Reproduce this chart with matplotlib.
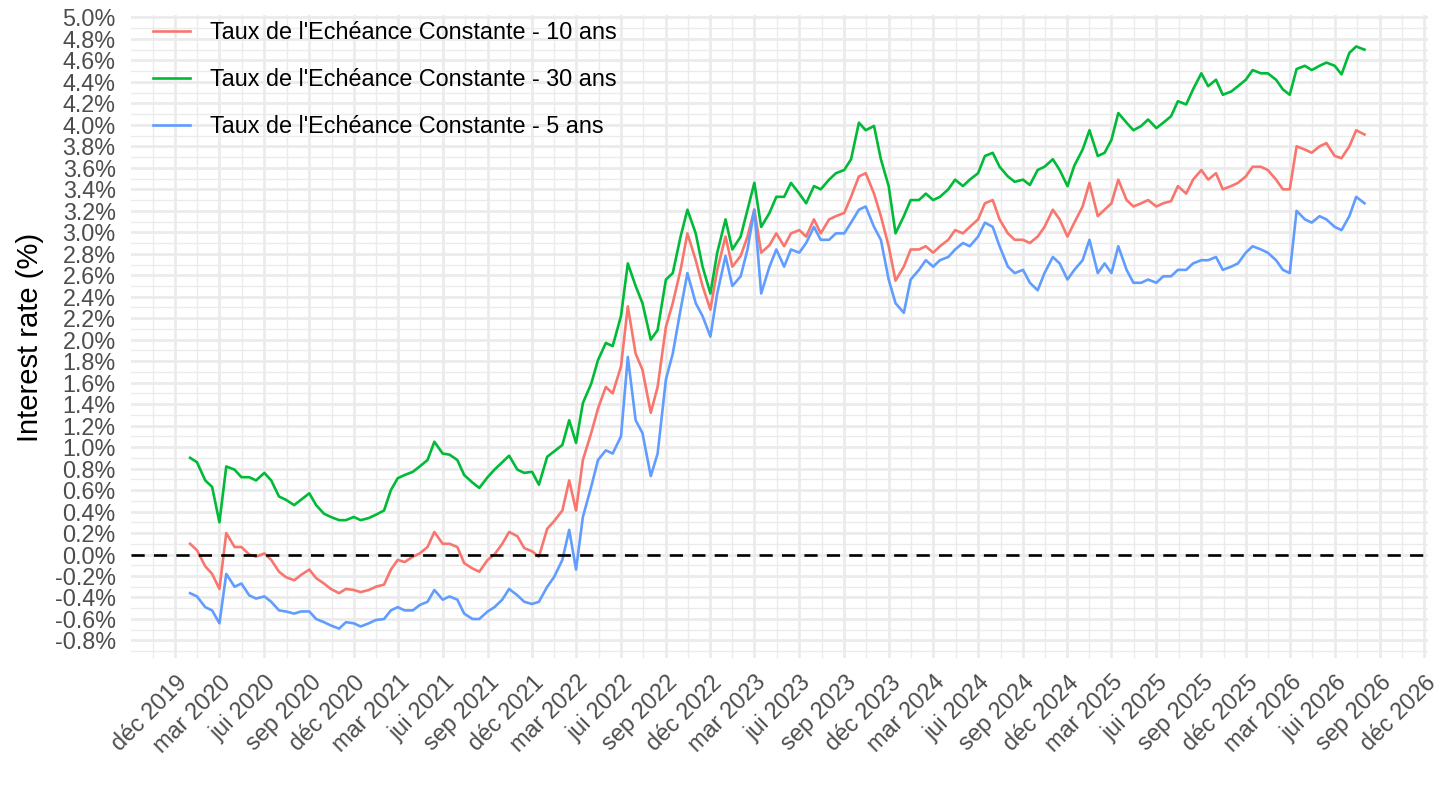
import numpy as np
import pandas as pd
import matplotlib
matplotlib.use("Agg")
import matplotlib.pyplot as plt
from matplotlib.ticker import FixedLocator, FixedFormatter

plt.rcParams['font.family'] = ['Liberation Sans', 'DejaVu Sans']

# semi-monthly readings (1st and 15th of each month), Jan 2020 -> Aug 2026
dates = pd.date_range("2020-01-01", "2026-08-01", freq="SMS")

tec_10 = [
    # 2020
    0.10, 0.04, -0.11, -0.18, -0.32, 0.20, 0.07, 0.07, 0.00, -0.02, 0.01, -0.05,
    -0.16, -0.21, -0.24, -0.19, -0.14, -0.22, -0.27, -0.32, -0.36, -0.32, -0.33, -0.35,
    # 2021
    -0.33, -0.30, -0.28, -0.14, -0.05, -0.07, -0.02, 0.01, 0.07, 0.21, 0.10, 0.10,
    0.07, -0.08, -0.13, -0.16, -0.05, 0.00, 0.10, 0.21, 0.17, 0.06, 0.03, -0.02,
    # 2022
    0.24, 0.31, 0.41, 0.69, 0.41, 0.88, 1.13, 1.36, 1.56, 1.50, 1.75, 2.31,
    1.87, 1.72, 1.32, 1.56, 2.12, 2.34, 2.65, 2.99, 2.74, 2.50, 2.28, 2.65,
    # 2023
    2.96, 2.68, 2.78, 2.96, 3.21, 2.81, 2.88, 2.99, 2.87, 2.99, 3.02, 2.96,
    3.12, 2.99, 3.12, 3.15, 3.18, 3.33, 3.52, 3.55, 3.36, 3.15, 2.87, 2.55,
    # 2024
    2.68, 2.84, 2.84, 2.87, 2.81, 2.87, 2.93, 3.02, 2.99, 3.05, 3.12, 3.27,
    3.30, 3.12, 2.99, 2.93, 2.93, 2.90, 2.96, 3.05, 3.21, 3.12, 2.96, 3.09,
    # 2025
    3.24, 3.46, 3.15, 3.21, 3.27, 3.49, 3.30, 3.24, 3.27, 3.30, 3.24, 3.27,
    3.29, 3.43, 3.36, 3.49, 3.58, 3.49, 3.55, 3.40, 3.43, 3.46, 3.52, 3.61,
    # 2026
    3.61, 3.58, 3.49, 3.40, 3.40, 3.80, 3.77, 3.74, 3.80, 3.83, 3.71, 3.69,
    3.80, 3.95, 3.91,
]

tec_30 = [
    # 2020
    0.90, 0.86, 0.69, 0.63, 0.30, 0.82, 0.79, 0.72, 0.72, 0.69, 0.76, 0.69,
    0.54, 0.51, 0.46, 0.51, 0.57, 0.46, 0.38, 0.35, 0.32, 0.32, 0.35, 0.32,
    # 2021
    0.34, 0.37, 0.41, 0.60, 0.71, 0.74, 0.77, 0.82, 0.88, 1.05, 0.94, 0.93,
    0.88, 0.74, 0.67, 0.62, 0.72, 0.79, 0.86, 0.92, 0.79, 0.76, 0.77, 0.65,
    # 2022
    0.91, 0.96, 1.02, 1.25, 1.04, 1.41, 1.59, 1.81, 1.97, 1.94, 2.22, 2.71,
    2.50, 2.34, 2.00, 2.09, 2.56, 2.62, 2.96, 3.21, 2.99, 2.68, 2.43, 2.81,
    # 2023
    3.12, 2.84, 2.96, 3.21, 3.46, 3.05, 3.18, 3.33, 3.33, 3.46, 3.36, 3.27,
    3.43, 3.40, 3.49, 3.55, 3.58, 3.68, 4.02, 3.95, 3.99, 3.68, 3.43, 2.99,
    # 2024
    3.15, 3.30, 3.30, 3.36, 3.30, 3.33, 3.40, 3.49, 3.43, 3.49, 3.55, 3.71,
    3.74, 3.61, 3.52, 3.47, 3.49, 3.44, 3.58, 3.61, 3.68, 3.58, 3.43, 3.62,
    # 2025
    3.77, 3.95, 3.71, 3.74, 3.86, 4.11, 4.02, 3.95, 3.99, 4.05, 3.97, 4.02,
    4.08, 4.22, 4.19, 4.33, 4.48, 4.36, 4.42, 4.28, 4.31, 4.36, 4.42, 4.51,
    # 2026
    4.48, 4.48, 4.42, 4.33, 4.28, 4.52, 4.55, 4.51, 4.55, 4.58, 4.55, 4.47,
    4.67, 4.73, 4.70,
]

tec_5 = [
    # 2020
    -0.36, -0.39, -0.49, -0.52, -0.64, -0.18, -0.30, -0.27, -0.38, -0.41, -0.39, -0.44,
    -0.52, -0.53, -0.55, -0.53, -0.53, -0.60, -0.63, -0.66, -0.69, -0.63, -0.64, -0.67,
    # 2021
    -0.64, -0.61, -0.60, -0.52, -0.49, -0.52, -0.52, -0.47, -0.44, -0.33, -0.42, -0.39,
    -0.42, -0.55, -0.60, -0.60, -0.53, -0.49, -0.42, -0.32, -0.38, -0.44, -0.46, -0.44,
    # 2022
    -0.30, -0.21, -0.05, 0.23, -0.14, 0.35, 0.63, 0.88, 0.97, 0.94, 1.10, 1.84,
    1.25, 1.13, 0.73, 0.94, 1.63, 1.87, 2.28, 2.62, 2.34, 2.22, 2.03, 2.43,
    # 2023
    2.78, 2.50, 2.59, 2.84, 3.21, 2.43, 2.68, 2.84, 2.68, 2.84, 2.81, 2.90,
    3.05, 2.93, 2.93, 2.99, 2.99, 3.09, 3.21, 3.24, 3.05, 2.93, 2.56, 2.34,
    # 2024
    2.25, 2.56, 2.65, 2.74, 2.68, 2.74, 2.77, 2.84, 2.90, 2.87, 2.96, 3.09,
    3.05, 2.87, 2.68, 2.62, 2.65, 2.53, 2.46, 2.62, 2.77, 2.71, 2.56, 2.65,
    # 2025
    2.74, 2.93, 2.62, 2.71, 2.62, 2.87, 2.65, 2.53, 2.53, 2.56, 2.53, 2.59,
    2.59, 2.65, 2.65, 2.71, 2.74, 2.74, 2.77, 2.65, 2.68, 2.71, 2.81, 2.87,
    # 2026
    2.84, 2.81, 2.74, 2.65, 2.62, 3.20, 3.12, 3.09, 3.15, 3.12, 3.05, 3.02,
    3.15, 3.33, 3.27,
]

series_names = [
    "Taux de l'Echéance Constante - 10 ans",
    "Taux de l'Echéance Constante - 30 ans",
    "Taux de l'Echéance Constante - 5 ans",
]
series_colors = ["#F8766D", "#00BA38", "#619CFF"]

mois = {12: "déc", 3: "mar", 6: "jui", 9: "sep"}
x_breaks = pd.date_range("2019-12-01", "2026-12-01", freq="3MS")
x_labels = [f"{mois[d.month]} {d.year}" for d in x_breaks]
y_breaks = np.arange(-8, 51, 2) / 10
y_labels = [f"{v:.1f}%" for v in y_breaks]

# figure
fig = plt.figure(figsize=(14.4, 8.1), dpi=100)
ax = fig.add_axes([131 / 1440, 1 - 658.4 / 810, 1297 / 1440, 643.1 / 810])

for vals, name, col in zip([tec_10, tec_30, tec_5], series_names, series_colors):
    ax.plot(dates, vals, color=col, lw=1.9, label=name, zorder=3)

ax.axhline(0, color="black", lw=1.9, ls=(0, (5, 3.5)), zorder=4)

ax.set_xlim(pd.Timestamp("2019-09-02"), pd.Timestamp("2026-12-09"))
ax.set_ylim(-0.967, 5.02)

# ticks and grid
bx = list(x_breaks)
x_minor = [bx[0] - (bx[1] - bx[0]) / 2] + [bx[i] + (bx[i + 1] - bx[i]) / 2 for i in range(len(bx) - 1)]
ax.xaxis.set_major_locator(FixedLocator(matplotlib.dates.date2num(bx)))
ax.xaxis.set_major_formatter(FixedFormatter(x_labels))
ax.xaxis.set_minor_locator(FixedLocator(matplotlib.dates.date2num(x_minor)))
ax.yaxis.set_major_locator(FixedLocator(y_breaks))
ax.yaxis.set_major_formatter(FixedFormatter(y_labels))
ax.yaxis.set_minor_locator(FixedLocator(np.arange(-9, 50, 2) / 10))

ax.grid(which="major", color="#EBEBEB", lw=2.0)
ax.grid(which="minor", color="#EBEBEB", lw=1.0)
ax.set_axisbelow(True)
for s in ax.spines.values():
    s.set_visible(False)

ax.tick_params(which="both", length=0, labelsize=16.8, labelcolor="#4D4D4D")
ax.tick_params(axis="y", pad=11)
ax.tick_params(axis="x", pad=9)
for lab in ax.get_xticklabels():
    lab.set_rotation(45)
    lab.set_ha("right")
    lab.set_va("top")
    lab.set_rotation_mode("anchor")

fig.text(30 / 1440, 1 - 337 / 810, "Interest rate (%)", rotation=90,
         ha="center", va="center", fontsize=21, color="black")

ax.legend(loc="upper left", bbox_to_anchor=(0.0167, 0.991), frameon=False,
          fontsize=16.8, handlelength=1.6, handletextpad=0.86, labelspacing=1.02,
          borderpad=0, borderaxespad=0)

fig.savefig("out.png", dpi=100)
